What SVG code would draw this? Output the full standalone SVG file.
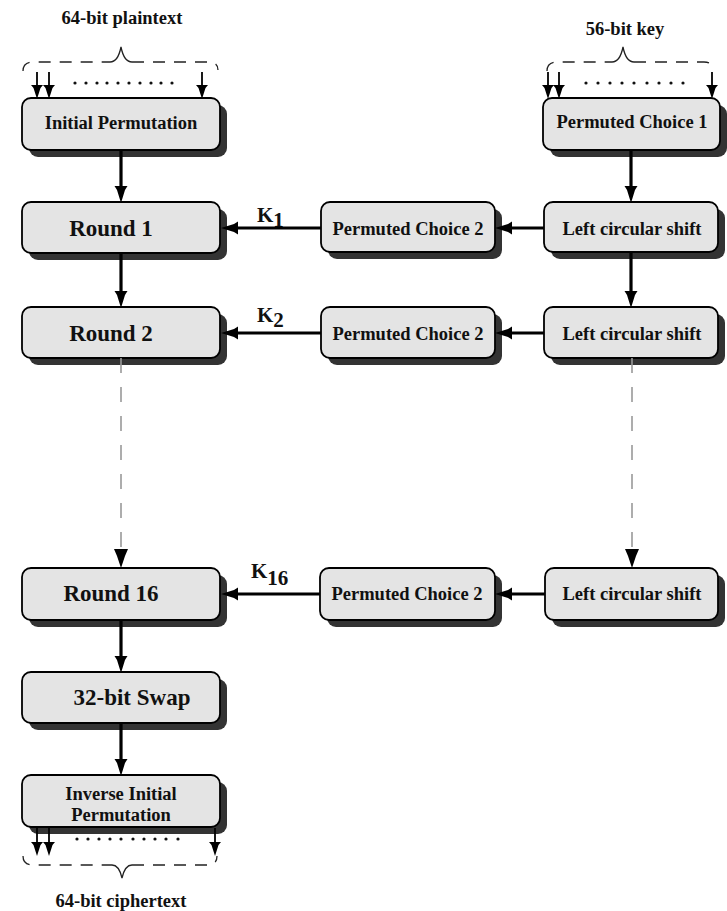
<svg xmlns="http://www.w3.org/2000/svg" width="727" height="911" viewBox="0 0 727 911">
  <style>
    .box { fill: #e4e4e4; stroke: #000; stroke-width: 1.8; }
    .shadow { fill: #333; }
    .lbl { font-family: "Liberation Serif", "Times New Roman", serif; font-weight: bold; fill: #111; text-anchor: middle; }
    .s18 { font-size: 18.5px; }
    .s23 { font-size: 23px; }
    .key { font-family: "Liberation Serif", "Times New Roman", serif; font-weight: bold; fill: #111; font-size: 21px; }
    .wire { stroke: #000; stroke-width: 3.2; fill: none; marker-end: url(#ah); }
    .thin { stroke: #000; stroke-width: 1.8; fill: none; marker-end: url(#ahs); }
    .dash { stroke: #999; stroke-width: 1.6; fill: none; stroke-dasharray: 15 14; }
    .brace { stroke: #222; stroke-width: 1.3; fill: none; stroke-dasharray: 12 9; }
    .apex { stroke: #222; stroke-width: 1.3; fill: none; }
    .dot { fill: #111; }
  </style>
  <defs>
    <marker id="ah" markerUnits="userSpaceOnUse" markerWidth="18" markerHeight="14" refX="8" refY="7" orient="auto">
      <path d="M0,0.5 L4,3 L17,7 L4,11 L0,13.5 Z" fill="#000"/>
    </marker>
    <marker id="ahs" markerUnits="userSpaceOnUse" markerWidth="15" markerHeight="12" refX="6" refY="6" orient="auto">
      <path d="M0,0 L3,2.5 L14,6 L3,9.5 L0,12 Z" fill="#000"/>
    </marker>
  </defs>

  <!-- input / output bit fans -->
  <g id="plaintext-in">
    <text class="lbl s18" x="122" y="24">64-bit plaintext</text>
    <path class="brace" d="M23,71 Q23,62 33,62 L110,62"/>
    <path class="apex" d="M110,62 Q118,62 121,47 Q124,62 132,62"/>
    <path class="brace" d="M132,62 L209,62 Q218,62 218,70"/>
    <g class="dot">
      <circle cx="75" cy="83" r="1.6"/><circle cx="86" cy="83" r="1.6"/><circle cx="97" cy="83" r="1.6"/>
      <circle cx="107" cy="83" r="1.6"/><circle cx="118" cy="83" r="1.6"/><circle cx="129" cy="83" r="1.6"/>
      <circle cx="140" cy="83" r="1.6"/><circle cx="151" cy="83" r="1.6"/><circle cx="161" cy="83" r="1.6"/>
      <circle cx="172" cy="83" r="1.6"/>
    </g>
  </g>
  <g id="key-in">
    <text class="lbl s18" x="625" y="35">56-bit key</text>
    <path class="brace" d="M547,71 Q547,62 557,62 L612,62"/>
    <path class="apex" d="M612,62 Q620,62 623,47 Q626,62 634,62"/>
    <path class="brace" d="M634,62 L704,62 Q713,62 713,70"/>
    <g class="dot">
      <circle cx="586" cy="83" r="1.6"/><circle cx="598" cy="83" r="1.6"/><circle cx="610" cy="83" r="1.6"/>
      <circle cx="622" cy="83" r="1.6"/><circle cx="634" cy="83" r="1.6"/><circle cx="647" cy="83" r="1.6"/>
      <circle cx="659" cy="83" r="1.6"/><circle cx="671" cy="83" r="1.6"/><circle cx="683" cy="83" r="1.6"/>
    </g>
  </g>
  <g id="ciphertext-out">
    <text class="lbl s18" x="121" y="907">64-bit ciphertext</text>
    <path class="brace" d="M23,856 Q23,865 33,865 L112,865"/>
    <path class="apex" d="M112,865 Q119,865 122,878 Q125,865 132,865"/>
    <path class="brace" d="M132,865 L208,865 Q217,865 217,856"/>
    <g class="dot">
      <circle cx="77" cy="839" r="1.6"/><circle cx="88" cy="839" r="1.6"/><circle cx="99" cy="839" r="1.6"/>
      <circle cx="110" cy="839" r="1.6"/><circle cx="121" cy="839" r="1.6"/><circle cx="133" cy="839" r="1.6"/>
      <circle cx="144" cy="839" r="1.6"/><circle cx="155" cy="839" r="1.6"/><circle cx="166" cy="839" r="1.6"/>
      <circle cx="178" cy="839" r="1.6"/>
    </g>
  </g>

  <!-- data path -->
  <g id="initial-permutation">
    <rect class="shadow" x="29" y="105" width="198" height="52" rx="9"/>
    <rect class="box" x="22" y="98" width="198" height="52" rx="9"/>
    <text class="lbl s18" x="121" y="129">Initial Permutation</text>
  </g>
  <g id="round-1">
    <rect class="shadow" x="29" y="209" width="198" height="51" rx="9"/>
    <rect class="box" x="22" y="202" width="198" height="51" rx="9"/>
    <text class="lbl s23" x="111" y="236">Round 1</text>
  </g>
  <g id="round-2">
    <rect class="shadow" x="29" y="314" width="198" height="51" rx="9"/>
    <rect class="box" x="22" y="307" width="198" height="51" rx="9"/>
    <text class="lbl s23" x="111" y="341">Round 2</text>
  </g>
  <g id="round-16">
    <rect class="shadow" x="29" y="575" width="198" height="52" rx="9"/>
    <rect class="box" x="22" y="568" width="198" height="52" rx="9"/>
    <text class="lbl s23" x="111" y="601">Round 16</text>
  </g>
  <g id="swap">
    <rect class="shadow" x="29" y="679" width="198" height="51" rx="9"/>
    <rect class="box" x="22" y="672" width="198" height="51" rx="9"/>
    <text class="lbl s23" x="132" y="705">32-bit Swap</text>
  </g>
  <g id="inverse-initial-permutation">
    <rect class="shadow" x="29" y="782" width="198" height="52" rx="9"/>
    <rect class="box" x="22" y="775" width="198" height="52" rx="9"/>
    <text class="lbl s18" x="121" y="800">Inverse Initial</text>
    <text class="lbl s18" x="121" y="821">Permutation</text>
  </g>

  <!-- key schedule -->
  <g id="permuted-choice-1">
    <rect class="shadow" x="550" y="105" width="177" height="52" rx="9"/>
    <rect class="box" x="543" y="98" width="177" height="52" rx="9"/>
    <text class="lbl s18" x="632" y="128">Permuted Choice 1</text>
  </g>
  <g id="shift-1">
    <rect class="shadow" x="551" y="209" width="174" height="50" rx="9"/>
    <rect class="box" x="544" y="202" width="174" height="50" rx="9"/>
    <text class="lbl s18" x="632" y="235">Left circular shift</text>
  </g>
  <g id="shift-2">
    <rect class="shadow" x="551" y="314" width="174" height="51" rx="9"/>
    <rect class="box" x="544" y="307" width="174" height="51" rx="9"/>
    <text class="lbl s18" x="632" y="340">Left circular shift</text>
  </g>
  <g id="shift-16">
    <rect class="shadow" x="552" y="575" width="173" height="52" rx="9"/>
    <rect class="box" x="545" y="568" width="173" height="52" rx="9"/>
    <text class="lbl s18" x="632" y="600">Left circular shift</text>
  </g>
  <g id="choice2-1">
    <rect class="shadow" x="328" y="209" width="174" height="50" rx="9"/>
    <rect class="box" x="321" y="202" width="174" height="50" rx="9"/>
    <text class="lbl s18" x="408" y="235">Permuted Choice 2</text>
  </g>
  <g id="choice2-2">
    <rect class="shadow" x="328" y="314" width="174" height="51" rx="9"/>
    <rect class="box" x="321" y="307" width="174" height="51" rx="9"/>
    <text class="lbl s18" x="408" y="340">Permuted Choice 2</text>
  </g>
  <g id="choice2-16">
    <rect class="shadow" x="327" y="575" width="175" height="52" rx="9"/>
    <rect class="box" x="320" y="568" width="175" height="52" rx="9"/>
    <text class="lbl s18" x="407" y="600">Permuted Choice 2</text>
  </g>

  <!-- subkey labels -->
  <g id="subkeys">
    <text class="key" x="257" y="222">K<tspan dy="5">1</tspan></text>
    <text class="key" x="257" y="322">K<tspan dy="5">2</tspan></text>
    <text class="key" x="251" y="578">K<tspan dy="7">16</tspan></text>
  </g>

  <g id="connectors">
    <!-- bit fans -->
    <line class="thin" x1="37" y1="72" x2="37" y2="91"/>
    <line class="thin" x1="49" y1="72" x2="49" y2="91"/>
    <line class="thin" x1="202" y1="72" x2="202" y2="91"/>
    <line class="thin" x1="548" y1="72" x2="548" y2="91"/>
    <line class="thin" x1="559" y1="72" x2="559" y2="91"/>
    <line class="thin" x1="712" y1="72" x2="712" y2="91"/>
    <line class="thin" x1="37" y1="828" x2="37" y2="848"/>
    <line class="thin" x1="49" y1="828" x2="49" y2="848"/>
    <line class="thin" x1="215" y1="828" x2="215" y2="848"/>
    <!-- data path -->
    <line class="wire" x1="121" y1="150" x2="121" y2="194"/>
    <line class="wire" x1="121" y1="253" x2="121" y2="299"/>
    <line class="wire" x1="121" y1="620" x2="121" y2="664"/>
    <line class="wire" x1="121" y1="723" x2="121" y2="767"/>
    <!-- key schedule -->
    <line class="wire" x1="631" y1="150" x2="631" y2="194"/>
    <line class="wire" x1="631" y1="252" x2="631" y2="299"/>
    <line class="wire" x1="544" y1="228" x2="504" y2="228"/>
    <line class="wire" x1="544" y1="333" x2="504" y2="333"/>
    <line class="wire" x1="545" y1="594" x2="504" y2="594"/>
    <line class="wire" x1="321" y1="228" x2="230" y2="228"/>
    <line class="wire" x1="321" y1="333" x2="230" y2="333"/>
    <line class="wire" x1="320" y1="594" x2="230" y2="594"/>
    <!-- elided rounds -->
    <line class="dash" x1="121" y1="358" x2="121" y2="552"/>
    <line class="dash" x1="632" y1="358" x2="632" y2="552"/>
    <path d="M114,549 L128,549 L125,556 L121,568 L117,556 Z" fill="#000"/>
    <path d="M625,549 L639,549 L636,556 L632,568 L628,556 Z" fill="#000"/>
  </g>
</svg>
